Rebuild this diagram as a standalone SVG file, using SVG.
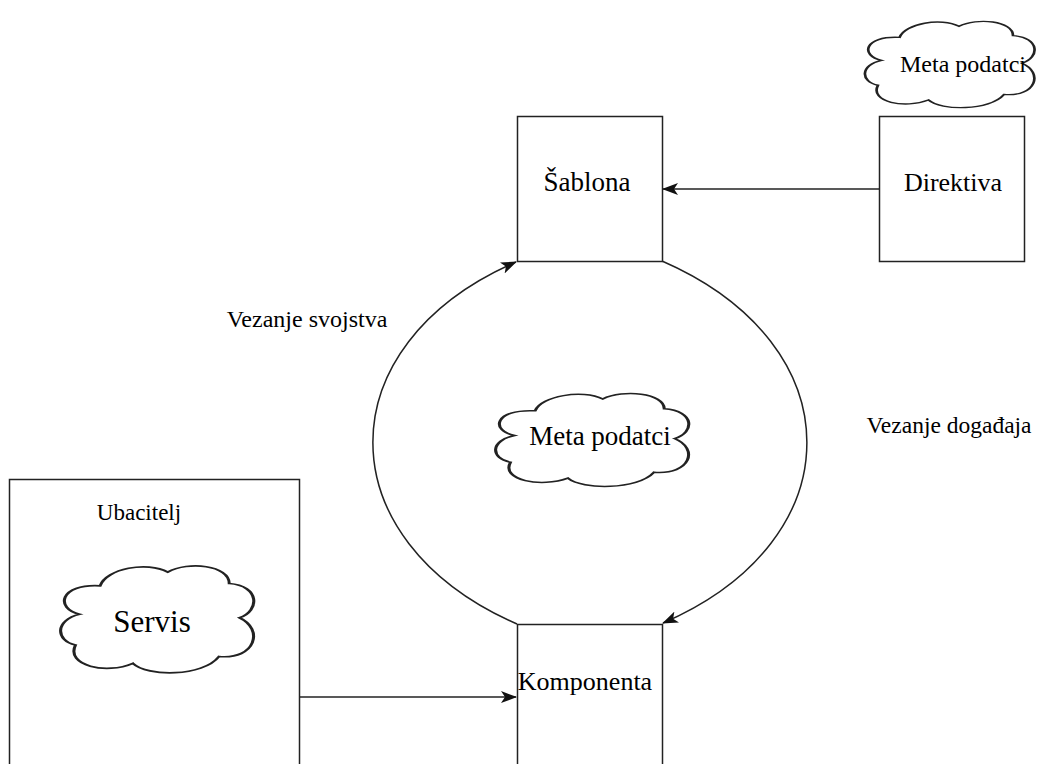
<svg xmlns="http://www.w3.org/2000/svg" width="1039" height="764" viewBox="0 0 1039 764">
<style>
.box{fill:#fff;stroke:#222;stroke-width:1.5}
.cloud{fill:#fff;stroke:#222;stroke-width:1.5}
.edge{fill:none;stroke:#222;stroke-width:1.5}
text{font-family:"Liberation Serif","Times New Roman",serif;fill:#000}
</style>
<defs>
<marker id="ah" viewBox="0 0 16 12" refX="15" refY="6" markerWidth="16" markerHeight="12" markerUnits="userSpaceOnUse" orient="auto">
<path d="M0,0 L16,6 L0,12 L4,6 Z" fill="#111"/>
</marker>
<path id="cloudShape" d="M12,45 C0,40 2,18 22,20 C25,5 45,-2 55,8 C65,-2 85,2 85,18 C100,20 100,42 90,48 C102,58 98,85 80,82 C72,100 45,100 38,88 C25,98 5,90 10,72 C0,68 0,50 12,45 Z"/>
</defs>
<rect width="1039" height="764" fill="#fff"/>
<g id="edges">
<path class="edge" d="M879,189 L663,189" marker-end="url(#ah)"/>
<path class="edge" d="M300,697 L516,697" marker-end="url(#ah)"/>
<path class="edge" d="M517,624 C325,540 325,345 516,262" marker-end="url(#ah)"/>
<path class="edge" d="M662,261 C855,345 855,540 663,623" marker-end="url(#ah)"/>
</g>
<g id="ubacitelj">
<rect class="box" x="9.5" y="479.5" width="290" height="300"/>
<text x="139" y="520" font-size="23" text-anchor="middle">Ubacitelj</text>
</g>
<g id="servis">
<use href="#cloudShape" class="cloud" transform="translate(55,563) scale(2.05,1.14)" style="vector-effect:non-scaling-stroke"/>
<text x="152" y="632" font-size="31" text-anchor="middle">Servis</text>
</g>
<g id="sablona">
<rect class="box" x="517.5" y="116.5" width="145" height="145"/>
<text x="587" y="191" font-size="27" text-anchor="middle">Šablona</text>
</g>
<g id="direktiva">
<rect class="box" x="879.5" y="116.5" width="145" height="145"/>
<text x="953" y="191" font-size="26" text-anchor="middle">Direktiva</text>
</g>
<g id="meta-top">
<use href="#cloudShape" class="cloud" transform="translate(860,19) scale(1.8,0.92)" style="vector-effect:non-scaling-stroke"/>
<text x="963" y="72" font-size="24" text-anchor="middle">Meta podatci</text>
</g>
<g id="meta-mid">
<use href="#cloudShape" class="cloud" transform="translate(490,391) scale(2.05,0.99)" style="vector-effect:non-scaling-stroke"/>
<text x="600" y="445" font-size="27" text-anchor="middle">Meta podatci</text>
</g>
<g id="komponenta">
<rect class="box" x="517.5" y="624.5" width="145" height="160"/>
<text x="585" y="690" font-size="26" text-anchor="middle">Komponenta</text>
</g>
<g id="labels">
<text x="307" y="327" font-size="24" text-anchor="middle">Vezanje svojstva</text>
<text x="949" y="433" font-size="23.5" text-anchor="middle">Vezanje događaja</text>
</g>
</svg>
